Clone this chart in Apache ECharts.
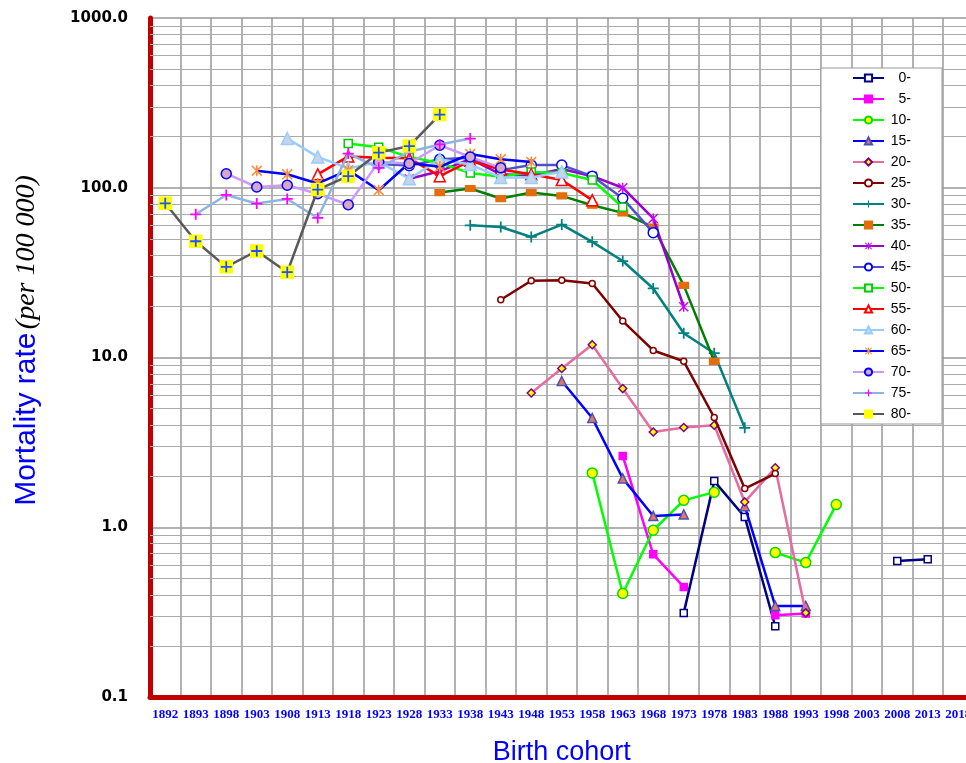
<!DOCTYPE html>
<html><head><meta charset="utf-8">
<script src="https://cdn.jsdelivr.net/npm/echarts@6/dist/echarts.min.js"></script>
<style>html,body{margin:0;padding:0;background:#fff}#c{width:966px;height:763px}</style>
</head><body><div id="c"></div>
<script>
// Birth cohort categories
const categories = ['1892','1893','1898','1903','1908','1913','1918','1923','1928','1933','1938','1943','1948','1953','1958','1963','1968','1973','1978','1983','1988','1993','1998','2003','2008','2013','2018'];
const seriesNames = ['0-','5-','10-','15-','20-','25-','30-','35-','40-','45-','50-','55-','60-','65-','70-','75-','80-'];
const _ = null;
// values per age group, aligned with categories (per 100 000)
const age0  = [_,_,_,_,_,_,_,_,_,_,_,_,_,_,_,_,_,0.313,1.87,1.15,0.261,_,_,_,0.633,0.648,_];
const age5  = [_,_,_,_,_,_,_,_,_,_,_,_,_,_,_,2.63,0.693,0.445,_,_,0.303,0.310,_,_,_,_,_];
const age10 = [_,_,_,_,_,_,_,_,_,_,_,_,_,_,2.09,0.407,0.96,1.44,1.61,_,0.709,0.619,1.36,_,_,_,_];
const age15 = [_,_,_,_,_,_,_,_,_,_,_,_,_,7.27,4.40,1.94,1.166,1.19,_,1.33,0.344,0.344,_,_,_,_,_];
const age20 = [_,_,_,_,_,_,_,_,_,_,_,_,6.18,8.61,11.9,6.56,3.64,3.87,3.99,1.41,2.24,0.313,_,_,_,_,_];
const age25 = [_,_,_,_,_,_,_,_,_,_,_,21.9,28.3,28.5,27.3,16.4,11.0,9.5,4.43,1.69,2.07,_,_,_,_,_,_];
const age30 = [_,_,_,_,_,_,_,_,_,_,60.1,58.7,51.3,60.7,48.0,37.0,25.5,13.9,10.6,3.85,_,_,_,_,_,_,_];
const age35 = [_,_,_,_,_,_,_,_,_,93.7,99,86.4,93.7,89.5,78.9,71.1,58.7,26.6,9.5,_,_,_,_,_,_,_,_];
const age40 = [_,_,_,_,_,_,_,_,113,125,148,120,118,129,117,100,65.9,19.9,_,_,_,_,_,_,_,_,_];
const age45 = [_,_,_,_,_,_,_,138,135,147,150,127,136,136,117,86.6,54.4,_,_,_,_,_,_,_,_,_,_];
const age50 = [_,_,_,_,_,_,182,173,152,140,122,116,124,122,111,76.8,_,_,_,_,_,_,_,_,_,_,_];
const age55 = [_,_,_,_,_,120,153,150,149,117,144,128,120,111,84.5,_,_,_,_,_,_,_,_,_,_,_,_];
const age60 = [_,_,_,_,195,152,130,142,113,147,137,115,115,124,_,_,_,_,_,_,_,_,_,_,_,_,_];
const age65 = [_,_,_,126,120,106,127,96.7,140,133,158,147,142,_,_,_,_,_,_,_,_,_,_,_,_,_,_];
const age70 = [_,_,121,101,103.5,92.2,79.4,142,139,178,152,131,_,_,_,_,_,_,_,_,_,_,_,_,_,_,_];
const age75 = [_,69.8,90.7,80.7,85.9,66.4,159,131,163,180,195,_,_,_,_,_,_,_,_,_,_,_,_,_,_,_,_];
const age80 = [81,48.4,34.2,42.4,31.8,97.6,117,161,176,270,_,_,_,_,_,_,_,_,_,_,_,_,_,_,_,_,_];
const allAges = [age0,age5,age10,age15,age20,age25,age30,age35,age40,age45,age50,age55,age60,age65,age70,age75,age80];
// minor log grid values
const minorGridValues = [0.2,0.3,0.4,0.5,0.6,0.7,0.8,0.9,2,3,4,5,6,7,8,9,20,30,40,50,60,70,80,90,200,300,400,500,600,700,800,900];

const PLUS = 'path://M4.2,0 L5.8,0 L5.8,4.2 L10,4.2 L10,5.8 L5.8,5.8 L5.8,10 L4.2,10 L4.2,5.8 L0,5.8 L0,4.2 L4.2,4.2 Z';
const STAR = 'path://M4.3,0 L5.7,0 L5.7,10 L4.3,10 Z M0,1 L1,0 L5,4 L9,0 L10,1 L6,5 L10,9 L9,10 L5,6 L1,10 L0,9 L4,5 Z';

// styles: line colour, symbol, size, fill, border
const styles = [
  ['#000080','rect',7,'#ffffff','#000080'],
  ['#FF00FF','rect',7,'#FF00FF','#FF00FF'],
  ['#00FF00','circle',10,'#FFFF00','#00DD00'],
  ['#0000FF','triangle',9,'#E07868','#5050B0'],
  ['#E46C9E','diamond',8,'#FFFF00','#800080'],
  ['#800000','circle',6,'#ffffff','#800000'],
  ['#008080',PLUS,11,'#008080','#008080'],
  ['#008000','rect',[9,6],'#E46C0A','#E46C0A'],
  ['#9900CC',STAR,10,'#CC00FF','#CC00FF'],
  ['#5050CC','circle',10,'#ffffff','#0000FF'],
  ['#00FF00','rect',8,'#ffffff','#00CC00'],
  ['#FF0000','triangle',11,'#ffffff','#FF0000'],
  ['#99CCFF','triangle',12,'#C5D5E8','#99CCFF'],
  ['#0000FF',STAR,11,'#FF8C30','#FF8C30'],
  ['#CC99FF','circle',10,'#D8A8C8','#0000FF'],
  ['#8DB4E2',PLUS,11,'#FF00FF','#FF00FF'],
  ['#595959','rect',12,'#FFFF00','#FFFF00']
];

const series = seriesNames.map((n,i)=>{
  const s = styles[i];
  return {
    name:n, type:'line', data: allAges[i], connectNulls:false,
    symbol:s[1], symbolSize:s[2], showAllSymbol:true,
    lineStyle:{color:s[0], width:2.5},
    itemStyle:{color:s[3], borderColor:s[4], borderWidth:(s[1]===PLUS||s[1]===STAR)?0:1.5},
    z:3+i
  };
});
// blue crosses drawn inside the 80- yellow squares
series.push({name:'80-', type:'line', data: age80, symbol:PLUS, symbolSize:11,
  lineStyle:{opacity:0, width:0}, itemStyle:{color:'#2050FF', borderWidth:0}, z:30});
// minor gridlines of the log scale
series.push({name:'minorGrid', type:'line', data:[], silent:true, z:1,
  markLine:{silent:true, symbol:'none', z:1, animation:false, label:{show:false},
    lineStyle:{color:'#aaaaaa', width:1.2, type:'solid'},
    data: minorGridValues.map(v=>({yAxis:v}))}});

const chart = echarts.init(document.getElementById('c'), null, {renderer:'canvas'});
chart.setOption({
  animation:false,
  backgroundColor:'#ffffff',
  grid:{left:150, top:18, width:823.5, height:679, containLabel:false, outerBoundsMode:'none'},
  legend:{
    data: seriesNames, orient:'vertical', left:821, top:68,
    backgroundColor:'#ffffff', borderColor:'#999999', borderWidth:1,
    padding:[3,31,3,31], itemWidth:31, itemHeight:9, itemGap:7,
    formatter: n => '{t|' + n + '}',
    textStyle:{rich:{t:{width:22, align:'right', fontSize:14, lineHeight:14, fontFamily:'Liberation Sans, Arial, sans-serif', color:'#000'}}}
  },
  xAxis:{
    type:'category', data:categories, boundaryGap:true,
    name:'Birth cohort', nameLocation:'middle', nameGap:42,
    nameTextStyle:{fontSize:27, color:'#0000FF', fontFamily:'Liberation Sans, Arial, sans-serif'},
    axisLine:{show:true, onZero:false, lineStyle:{color:'#C00000', width:5}},
    axisTick:{show:false},
    axisLabel:{interval:0, margin:11, fontSize:13, fontWeight:'bold', color:'#0000FF', fontFamily:'Liberation Serif, Times New Roman, serif'},
    splitLine:{show:true, interval:0, lineStyle:{color:'#999999', width:1.5}}
  },
  yAxis:{
    type:'log', logBase:10, min:0.1, max:1000,
    name:'{a|Mortality rate} {b|(per 100 000)}', nameLocation:'middle', nameGap:108, nameRotate:90,
    nameTextStyle:{padding:[0,0,0,34], rich:{
      a:{fontSize:30, color:'#0000FF', fontFamily:'Liberation Sans, Arial, sans-serif'},
      b:{fontSize:28, fontStyle:'italic', color:'#000', fontFamily:'Liberation Serif, Times New Roman, serif'}
    }},
    axisLine:{show:true, lineStyle:{color:'#C00000', width:5}},
    axisTick:{show:false},
    axisLabel:{margin:22, fontSize:15, fontWeight:'bold', color:'#000', fontFamily:'DejaVu Sans, Verdana, sans-serif',
      formatter: v => Number(v).toFixed(1)},
    splitLine:{show:true, lineStyle:{color:'#999999', width:1.5}}
  },
  series: series
});
</script></body></html>
